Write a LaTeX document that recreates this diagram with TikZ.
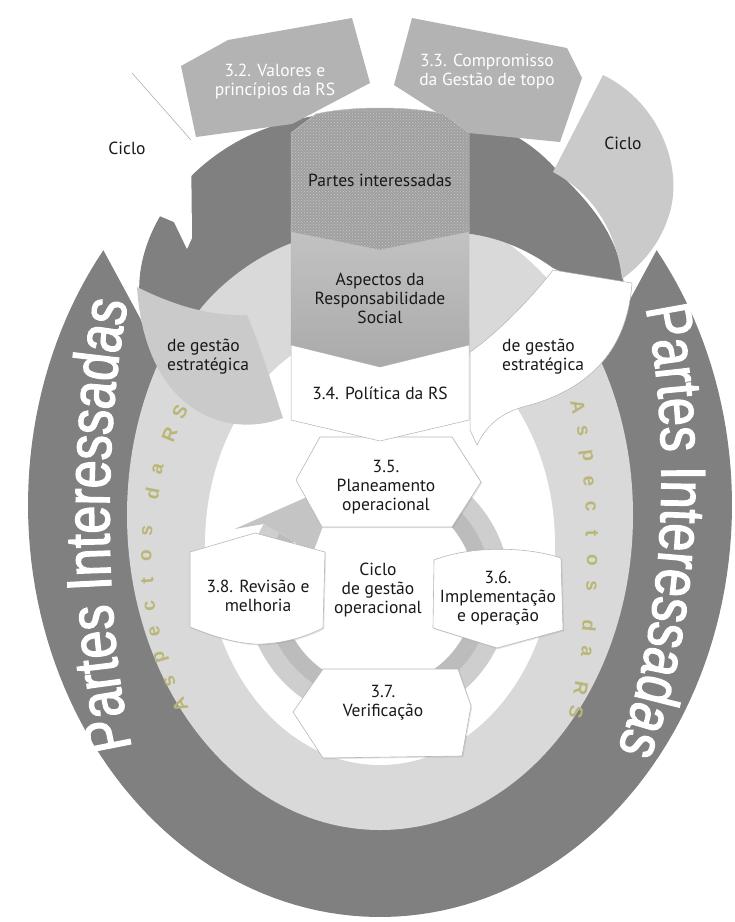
\documentclass[tikz,border=0pt]{standalone}
\usepackage{fontspec}
\setmainfont{PT Sans}
\newfontfamily\bigfont[FakeStretch=0.8,FakeBold=2]{Liberation Sans}
\newfontfamily\aspfont{Liberation Sans}
\usetikzlibrary{decorations.text,patterns,shadows}

\definecolor{ringdark}{RGB}{128,128,128}
\definecolor{bandlight}{RGB}{217,217,217}
\definecolor{segmid}{RGB}{179,179,179}
\definecolor{seglight}{RGB}{202,202,202}
\definecolor{hexgray}{RGB}{160,160,160}
\definecolor{boxgray}{RGB}{170,170,170}
\definecolor{opringlt}{RGB}{206,206,206}
\definecolor{opringdk}{RGB}{188,188,188}
\definecolor{aspcol}{RGB}{186,182,120}
\definecolor{txt}{RGB}{25,25,25}
\newcommand\bigsize{\bigfont\fontsize{63}{63}\selectfont\color{white}}

\begin{document}
\begin{tikzpicture}[x=1pt,y=-1pt,
  lbl/.style={font=\fontsize{17.5}{19}\selectfont, text=txt, align=center, inner sep=0pt},
  wlbl/.style={lbl, text=white},
  opbox/.style={fill=white, draw=black!28, line width=0.6pt,
    drop shadow={opacity=0.2, shadow xshift=1.2pt, shadow yshift=-1.2pt}},
  asp/.style={font=\aspfont\bfseries\fontsize{19}{19}\selectfont, text=aspcol, inner sep=0pt, sloped, allow upside down},
  segline/.style={draw=black!30, line width=0.5pt},
]
\useasboundingbox (0,0) rectangle (735,922);
\fill[white] (0,0) rectangle (735,922);

% ---- outer U ring "Partes Interessadas"
\fill[ringdark] plot[domain=-38.2:218.2, samples=140] ({380+352*cos(\x)},{505+412*sin(\x)})
  -- (140,318) -- (170,390) -- (380,430) -- (590,390) -- (620,318) -- cycle;

% ---- light band "Aspectos da RS"
\fill[bandlight] (380,515) ellipse [x radius=253, y radius=315];
\fill[white] (380,545) ellipse [x radius=175, y radius=220];

% ---- spaced letters along the light band
\foreach \ch/\p in {A/0, s/1, p/2, e/3, c/4, t/5, o/6, s/7, d/8.5, a/9.5, R/11, S/12} {
  \pgfmathsetmacro\pp{\p/12}
  \path (180,705) .. controls (135,610) and (135,500) .. (180,412) node[asp, pos=\pp] {\ch};
  \path (578,407) .. controls (597,500) and (597,620) .. (576,712) node[asp, pos=\pp] {\ch};
}

% ---- big curved texts
\path[decorate, decoration={text along path, text align=center,
  text={|\bigsize|Partes Interessadas}}]
  (140,780) .. controls (100,640) and (100,410) .. (135,270);
\path[decorate, decoration={text along path, text align=center,
  text={|\bigsize|Partes Interessadas}}]
  (635,265) .. controls (675,400) and (675,640) .. (600,790);

% ---- operational circular arrow
\fill[opringlt] plot[domain=-75:210, samples=100] ({378+132*cos(\x)},{590+132*sin(\x)})
  -- plot[domain=-210:75, samples=100] ({378+114*cos(-\x)},{590+114*sin(-\x)}) -- cycle;
\fill[opringdk] plot[domain=-75:210, samples=100] ({378+114*cos(\x)},{590+114*sin(\x)})
  -- plot[domain=-210:75, samples=100] ({378+97*cos(-\x)},{590+97*sin(-\x)}) -- cycle;
\fill[opringlt!95!black] ({378+132*cos(210)},{590+132*sin(210)})
  -- ({378+156*cos(203)},{590+156*sin(203)})
  -- ({378+114*cos(250)},{590+114*sin(250)})
  -- ({378+74*cos(203)},{590+74*sin(203)})
  -- ({378+97*cos(210)},{590+97*sin(210)}) -- cycle;

% ---- operational nodes
\path[opbox] (320,437) -- (452,437) -- (481,482) -- (452,527) -- (322,527) -- (296,480) -- cycle;
\path[opbox] (434,560) .. controls (470,546) and (525,546) .. (561,558) -- (563,630) -- (497,648) -- (433,628) -- cycle;
\path[opbox] (323,669) -- (458,669) -- (471,706) -- (462,756) -- (323,758) -- (293,712) -- cycle;
\path[opbox] (190,552) -- (255,533) -- (325,552) -- (323,628) .. controls (300,640) and (272,645) .. (253,644)
  .. controls (230,642) and (210,635) .. (190,627) -- cycle;

% ---- strategic dark band
\fill[ringdark] (140,302) .. controls (132,235) and (185,160) .. (262,130)
  .. controls (330,104) and (430,104) .. (490,124)
  .. controls (520,135) and (545,155) .. (560,174)
  .. controls (600,212) and (626,250) .. (624,300)
  -- (553,268) .. controls (525,248) and (495,236) .. (463,233)
  -- (300,240) .. controls (262,252) and (222,280) .. (197,313) -- cycle;

% left white "Ciclo" segment
\fill[white] (132,73) -- (191,140) -- (192,238) -- (187,249) -- (174,222) -- (150,212) -- (105,160) -- cycle;
\draw[black!35, line width=0.5pt] (132,73) -- (191,140);

% right light "Ciclo" segment
\fill[seglight] (603,75) .. controls (655,100) and (682,160) .. (671,208)
  .. controls (663,240) and (645,262) .. (622,279)
  .. controls (617,235) and (596,195) .. (553,172) -- cycle;

% left light "de gestao" segment
\fill[seglight] (137,287) .. controls (175,306) and (210,316) .. (247,315)
  .. controls (262,350) and (272,385) .. (283,418)
  .. controls (225,440) and (145,410) .. (137,287) -- cycle;

% right white "de gestao" segment
\path[fill=white, segline] (470,352) .. controls (495,335) and (530,300) .. (553,270) -- (632,283)
  .. controls (628,340) and (600,385) .. (530,405)
  .. controls (505,411) and (488,422) .. (477,445) -- (470,430) -- cycle;

% ---- central column
\path[fill=white, segline] (291,330) -- (469,330) -- (469,420) -- (380,441) -- (291,420) -- cycle;
\path[top color=boxgray!70!white, bottom color=boxgray, draw=black!30, line width=0.4pt]
  (291,225) -- (469,225) -- (469,345) -- (380,367) -- (291,345) -- cycle;

% ---- top segments 3.2 and 3.3
\fill[segmid] (181,66) -- (228,40) -- (352,18) -- (370,83) -- (292,124) -- (196,137) -- cycle;
\fill[segmid] (412,18) -- (567,48) -- (582,78) -- (560,142) -- (469,133) -- (394,85) -- cycle;

% ---- Partes interessadas hexagon
\path[fill=hexgray, draw=black!25, line width=0.5pt,
  postaction={pattern=crosshatch dots, pattern color=white!78!black}]
  (291,133) -- (316,114) .. controls (350,106) and (410,106) .. (444,114) -- (469,133)
  -- (469,232) -- (380,250) -- (291,232) -- cycle;

% ---- labels
\node[wlbl] (t32) at (275,82) {3.2. Valores e\\princípios da RS};
\node[wlbl] (t33) at (487,72) {3.3. Compromisso\\da Gestão de topo};
\node[lbl] (tpi) at (380,180) {Partes interessadas};
\node[lbl] (tab) at (380,298) {Aspectos da\\Responsabilidade\\Social};
\node[lbl] (t34) at (380,393) {3.4. Política da RS};
\node[lbl] (cl) at (127,148) {Ciclo};
\node[lbl] (cr) at (623,143) {Ciclo};
\node[lbl, align=left, anchor=west] (gl) at (167,357) {de gestão\\estratégica};
\node[lbl, align=left, anchor=west] (gr) at (502,357) {de gestão\\estratégica};
\node[lbl] (t35) at (386,487) {3.5.\\Planeamento\\operacional};
\node[lbl] (t36) at (498,598) {3.6.\\Implementação\\e operação};
\node[lbl] (t37) at (383,703) {3.7.\\Verificação};
\node[lbl] (t38) at (258,596) {3.8. Revisão e\\melhoria};
\node[lbl] (tc) at (378,590) {Ciclo\\de gestão\\operacional};
\end{tikzpicture}
\end{document}
